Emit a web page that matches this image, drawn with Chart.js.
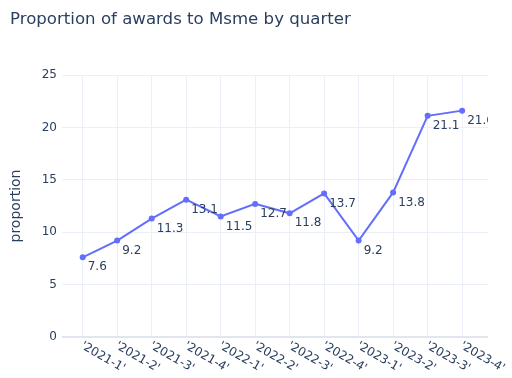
<!DOCTYPE html>
<html>
<head>
<meta charset="utf-8">
<script src="https://cdn.jsdelivr.net/npm/chart.js@4"></script>
<style>
  html, body { margin: 0; padding: 0; background: #fff; }
  #wrap { width: 512px; height: 378px; }
</style>
</head>
<body>
<div id="wrap"><canvas id="chart" width="512" height="378"></canvas></div>
<script>
// --- data ---
const quarters = ["'2021-1'", "'2021-2'", "'2021-3'", "'2021-4'", "'2022-1'", "'2022-2'",
  "'2022-3'", "'2022-4'", "'2023-1'", "'2023-2'", "'2023-3'", "'2023-4'"];
const proportion = [7.6, 9.2, 11.3, 13.1, 11.5, 12.7, 11.8, 13.7, 9.2, 13.8, 21.1, 21.6];
const yTicks = [0, 5, 10, 15, 20, 25];

const FONT = "'DejaVu Sans', Verdana, sans-serif";
const INK = "#2a3f5f";
const GRID = "#ebf0f8";
const LINE = "#636efa";

// --- custom text: title, axis title, rotated x labels, point labels ---
const textPlugin = {
  id: "texts",
  afterDatasetsDraw(chart) {
    const ctx = chart.ctx;
    const xs = chart.scales.x;
    const area = chart.chartArea;
    ctx.save();
    ctx.fillStyle = INK;

    // title
    ctx.font = "16.6px " + FONT;
    ctx.textAlign = "left";
    ctx.textBaseline = "middle";
    ctx.fillText("Proportion of awards to Msme by quarter", 10, 20);

    // y axis title
    ctx.save();
    ctx.font = "14px " + FONT;
    ctx.translate(16, (area.top + area.bottom) / 2);
    ctx.rotate(-Math.PI / 2);
    ctx.textAlign = "center";
    ctx.fillText("proportion", 0, 0);
    ctx.restore();

    // x tick labels, rotated 30deg clockwise
    ctx.font = "12px " + FONT;
    quarters.forEach((q, i) => {
      const px = xs.getPixelForValue(i);
      ctx.save();
      ctx.translate(px - 1, area.bottom + 8);
      ctx.rotate(Math.PI / 6);
      ctx.textAlign = "left";
      ctx.textBaseline = "middle";
      ctx.fillText(q, 0, 0);
      ctx.restore();
    });

    // point labels, bottom right, clipped to the plot area
    ctx.save();
    ctx.beginPath();
    ctx.rect(area.left, area.top, area.right - area.left, area.bottom - area.top);
    ctx.clip();
    const meta = chart.getDatasetMeta(0);
    ctx.textAlign = "left";
    ctx.textBaseline = "middle";
    meta.data.forEach((pt, i) => {
      ctx.fillText(proportion[i].toFixed(1), pt.x + 5, pt.y + 10);
    });
    ctx.restore();
    ctx.restore();
  }
};

new Chart(document.getElementById("chart"), {
  type: "line",
  data: {
    datasets: [{
      data: proportion.map((v, i) => ({ x: i, y: v })),
      borderColor: LINE,
      backgroundColor: LINE,
      borderWidth: 2,
      pointRadius: 3,
      pointBackgroundColor: LINE,
      pointBorderWidth: 0,
      tension: 0,
      clip: false
    }]
  },
  options: {
    responsive: false,
    animation: false,
    layout: { padding: { left: 0, right: 24, top: 75, bottom: 41 } },
    plugins: { legend: { display: false }, tooltip: { enabled: false } },
    scales: {
      x: {
        type: "linear",
        min: -0.6,
        max: 11.75,
        afterBuildTicks: (s) => { s.ticks = quarters.map((_, i) => ({ value: i })); },
        afterFit: (s) => { s.height = 0; },
        ticks: { display: false },
        grid: { color: GRID, lineWidth: 1, drawTicks: false },
        border: { display: false }
      },
      y: {
        min: 0,
        max: 25,
        afterBuildTicks: (s) => { s.ticks = yTicks.map(v => ({ value: v })); },
        afterFit: (s) => { s.width = 62; },
        ticks: { color: INK, font: { size: 12, family: FONT }, padding: 5 },
        grid: {
          color: (c) => c.tick && c.tick.value === 0 ? "#e1e6ee" : GRID,
          lineWidth: (c) => c.tick && c.tick.value === 0 ? 2 : 1,
          drawTicks: false
        },
        border: { display: false }
      }
    }
  },
  plugins: [textPlugin]
});
</script>
</body>
</html>
